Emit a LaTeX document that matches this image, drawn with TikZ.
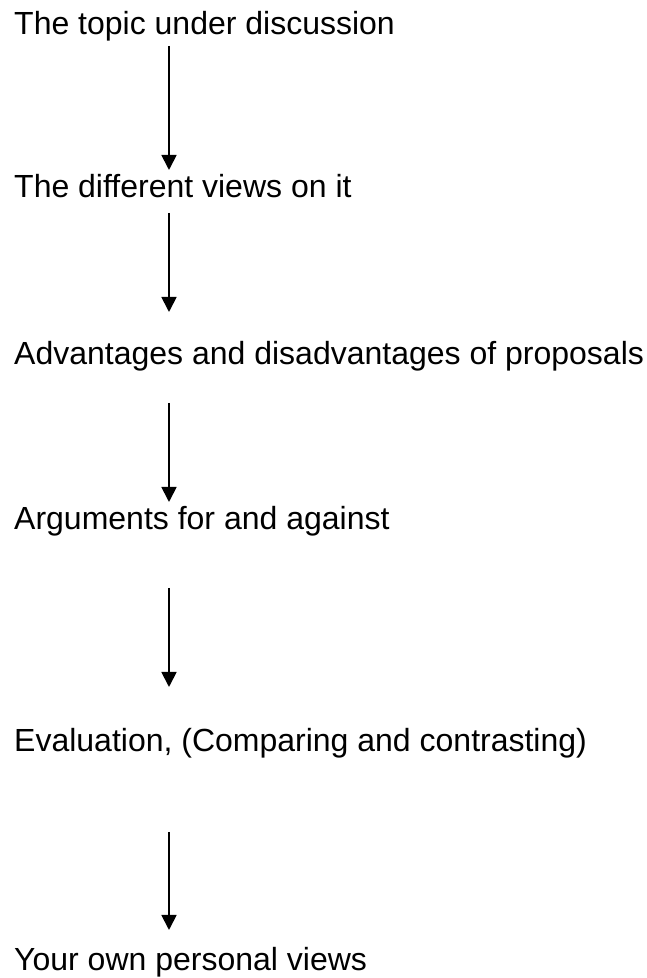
\documentclass[tikz,border=0pt]{standalone}
\usepackage{fontspec}
\setmainfont{Liberation Sans}
\usetikzlibrary{arrows.meta}

\begin{document}
\begin{tikzpicture}[x=1pt,y=1pt,
  stage/.style={anchor=base west, inner sep=0pt, font=\fontsize{32}{38}\selectfont},
  flow/.style={line width=1.8pt, -{Triangle[length=15pt,width=15pt]}}]
\useasboundingbox (0,0) rectangle (646,978);

% the stages, top to bottom
\node[stage] (t1) at (14,943) {The topic under discussion};
\node[stage] (t2) at (14,780) {The different views on it};
\node[stage] (t3) at (14,613) {Advantages and disadvantages of proposals};
\node[stage] (t4) at (14,448) {Arguments for and against};
\node[stage] (t5) at (14,226) {Evaluation, (Comparing and contrasting)};
\node[stage] (t6) at (14,8)   {Your own personal views};

% common vertical axis of the arrows
\coordinate (ax) at (169,0);

\draw[flow, shorten <=11pt, shorten >=28pt] (t1.base -| ax) -- (t2.base -| ax);
\draw[flow, shorten <=15pt, shorten >=53pt] (t2.base -| ax) -- (t3.base -| ax);
\draw[flow, shorten <=38pt, shorten >=28pt] (t3.base -| ax) -- (t4.base -| ax);
\draw[flow, shorten <=58pt, shorten >=65pt] (t4.base -| ax) -- (t5.base -| ax);
\draw[flow, shorten <=80pt, shorten >=40pt] (t5.base -| ax) -- (t6.base -| ax);
\end{tikzpicture}
\end{document}
